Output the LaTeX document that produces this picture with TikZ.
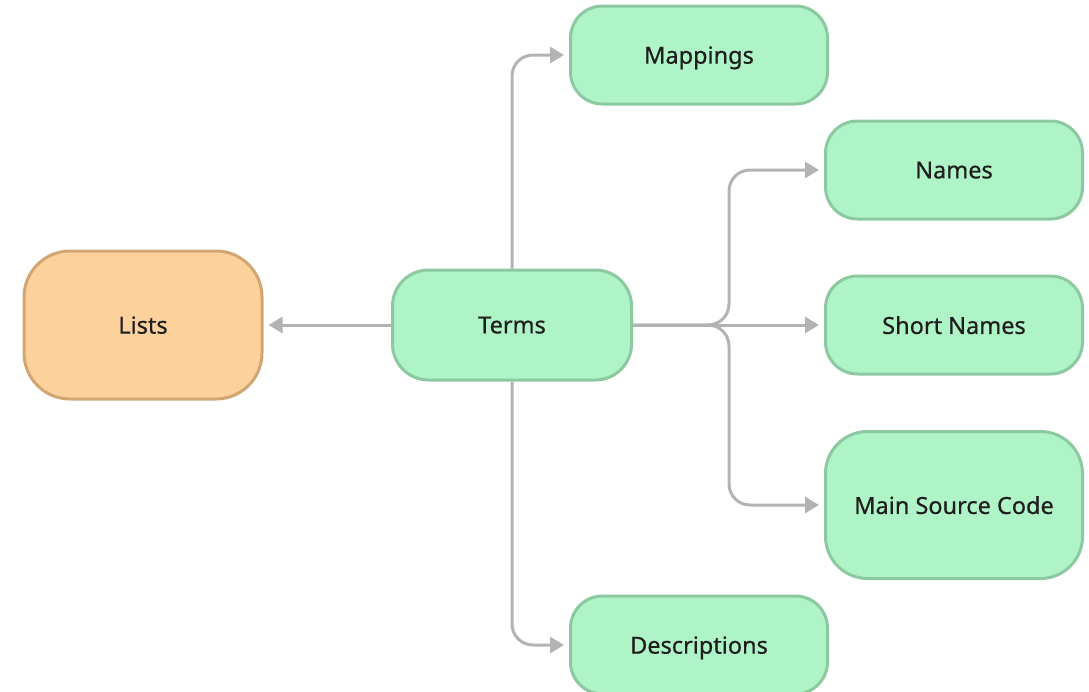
\documentclass[tikz,border=0pt]{standalone}
\usepackage{fontspec}
\setmainfont{Noto Sans}
\usetikzlibrary{arrows.meta,calc}
\definecolor{boxgreen}{HTML}{AFF4C6}
\definecolor{edgegreen}{HTML}{8CC8A0}
\definecolor{boxorange}{HTML}{FCD19C}
\definecolor{edgeorange}{HTML}{D2A673}
\definecolor{linkgray}{HTML}{B3B3B3}
\definecolor{inktext}{HTML}{1E1E1E}
\tikzset{
  topic/.style={draw=edgegreen, fill=boxgreen, line width=3pt, text=inktext,
    font=\fontsize{23.5}{28}\selectfont\addfontfeature{FakeBold=0.6},
    inner sep=0pt, align=center, text depth=0pt, yshift=0pt},
  root/.style={topic, draw=edgeorange, fill=boxorange},
  link/.style={draw=linkgray, line width=3pt,
    -{Triangle[length=14pt,width=16pt]}, shorten >=5pt, rounded corners=21pt}
}
\begin{document}
\begin{tikzpicture}[x=1pt,y=-1pt]
\useasboundingbox (0,0) rectangle (1089,691);
\node[root, minimum width=238pt, minimum height=148pt, rounded corners=46pt] (lists) at (143,325) {Lists};
\node[topic, minimum width=239pt, minimum height=110pt, rounded corners=36pt] (terms) at (512,325) {Terms};
\node[topic, minimum width=257pt, minimum height=98pt, rounded corners=32pt] (mappings) at (699,55) {Mappings};
\node[topic, minimum width=257pt, minimum height=98pt, rounded corners=32pt] (names) at (954,170) {Names};
\node[topic, minimum width=257pt, minimum height=98pt, rounded corners=32pt] (short) at (954,325) {Short Names};
\node[topic, minimum width=257pt, minimum height=147pt, rounded corners=42pt] (source) at (954,505) {Main Source Code};
\node[topic, minimum width=257pt, minimum height=98pt, rounded corners=32pt] (desc) at (699,645) {Descriptions};
\coordinate (split) at (729,325);
\draw[link] (terms.west) -- (lists.east);
\draw[link] (terms.north) |- (mappings.west);
\draw[link] (terms.south) |- (desc.west);
\draw[link] (terms.east) -- (split) |- (names.west);
\draw[link] (terms.east) -- (split) |- (source.west);
\draw[link] (terms.east) -- (short.west);
\end{tikzpicture}
\end{document}
